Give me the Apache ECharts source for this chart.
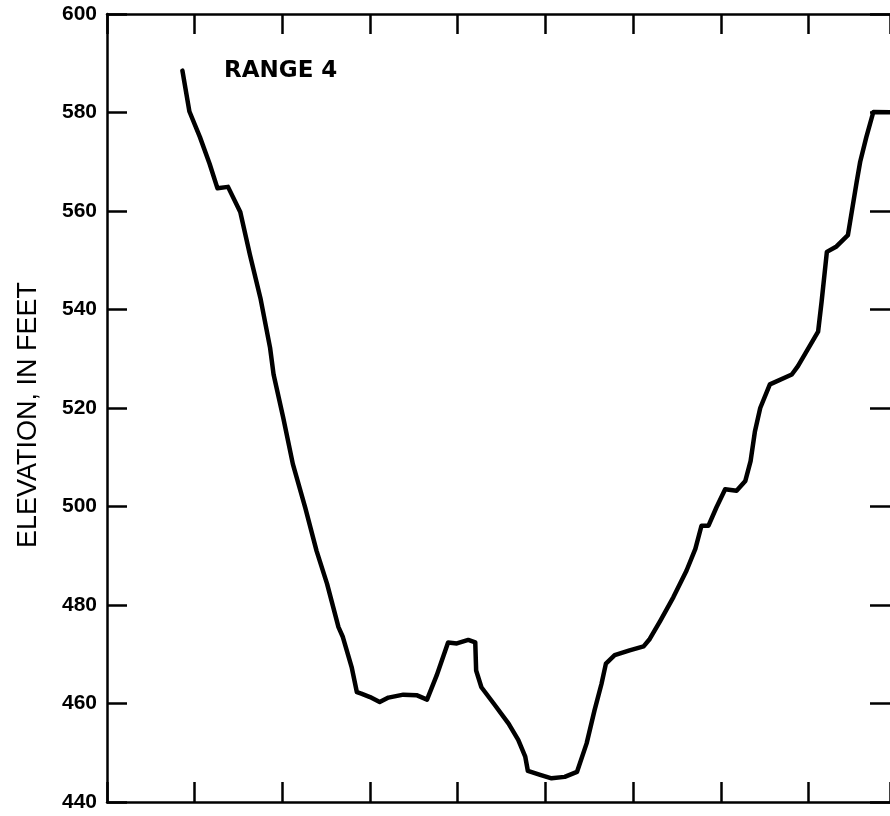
<!DOCTYPE html>
<html>
<head>
<meta charset="utf-8">
<script src="https://cdn.jsdelivr.net/npm/echarts@6/dist/echarts.min.js"></script>
<style>
  html, body { margin: 0; padding: 0; background: #fff; }
  #chart { width: 890px; height: 816px; }
</style>
</head>
<body>
<div id="chart"></div>
<script>
// Cross-section profile of Range 4: horizontal station vs. bed elevation.
const stations = [
  86, 94, 106, 117, 126, 138, 152, 163, 175, 186, 190, 201, 212, 226, 239, 251, 264,
  269, 279, 285, 290, 300, 311, 321, 338, 353, 365, 376, 389, 399, 412, 420, 421, 427,
  441, 458, 469, 477, 480, 494, 507, 522, 536, 547, 556, 564, 569, 579, 596, 612, 619,
  631, 646, 661, 671, 678, 686, 695, 705, 718, 728, 734, 739, 745, 756, 781, 788, 811,
  815, 821, 832, 845, 855, 859, 866, 874, 900
];
const elevations = [
  588.5, 580.2, 575.0, 569.6, 564.6, 564.9, 559.8, 551.1, 542.3, 532.2, 526.8, 518.0, 508.6, 499.8, 491.0, 484.3, 475.5,
  473.5, 467.4, 462.3, 462.0, 461.3, 460.3, 461.2, 461.8, 461.7, 460.8, 465.7, 472.4, 472.2, 472.9, 472.4, 466.7, 463.3,
  460.0, 455.9, 452.6, 449.2, 446.3, 445.5, 444.8, 445.1, 446.1, 451.9, 458.6, 464.0, 468.1, 469.8, 470.8, 471.6, 473.1,
  476.8, 481.6, 487.0, 491.4, 496.1, 496.1, 499.8, 503.5, 503.2, 505.2, 509.2, 515.3, 520.0, 524.8, 526.8, 528.5, 535.5,
  541.6, 551.7, 552.8, 555.1, 565.9, 570.0, 575.0, 580.1, 580.0
];
const elevationTicks = [440, 460, 480, 500, 520, 540, 560, 580, 600];
// station axis: ticks every 100; the frame stops just short of the 900 mark
const stationMin = 0;
const stationMax = 893;
const axisTitle = 'ELEVATION, IN FEET';
const sectionTitle = 'RANGE 4';

const profile = stations.map((s, i) => [s, elevations[i]]);

const frameLine = { show: true, onZero: false, lineStyle: { color: '#000', width: 2.5 } };
const innerTick = { show: true, inside: true, length: 20, lineStyle: { color: '#000', width: 2.5 } };

const xCommon = {
  type: 'value',
  gridIndex: 0,
  min: stationMin,
  max: stationMax,
  interval: 100,
  axisLine: frameLine,
  axisTick: innerTick,
  axisLabel: { show: false },
  splitLine: { show: false }
};
const yCommon = {
  type: 'value',
  gridIndex: 0,
  min: elevationTicks[0],
  max: elevationTicks[elevationTicks.length - 1],
  interval: 20,
  axisTick: innerTick,
  splitLine: { show: false }
};

const chart = echarts.init(document.getElementById('chart'), null, { renderer: 'canvas' });
chart.setOption({
  animation: false,
  backgroundColor: '#fff',
  grid: { left: 107, top: 14, right: 0, bottom: 14, containLabel: false },
  xAxis: [
    Object.assign({ position: 'bottom' }, xCommon),
    Object.assign({ position: 'top' }, xCommon)
  ],
  yAxis: [
    Object.assign({
      position: 'left',
      axisLine: frameLine,
      axisLabel: {
        show: true, margin: 10, color: '#000',
        fontFamily: 'Liberation Sans', fontWeight: 'bold', fontSize: 21
      }
    }, yCommon),
    // right-hand frame edge falls at the page border; only its ticks show
    Object.assign({
      position: 'right',
      axisLine: { show: false, onZero: false },
      axisLabel: { show: false }
    }, yCommon)
  ],
  graphic: [{
    type: 'text',
    x: 29,
    y: 415,
    rotation: Math.PI / 2,
    style: {
      text: axisTitle,
      fontFamily: 'Liberation Sans',
      fontSize: 27,
      fill: '#000',
      align: 'center',
      verticalAlign: 'middle'
    }
  }, {
    type: 'text',
    left: 224,
    top: 60,
    style: {
      text: sectionTitle,
      fontFamily: 'DejaVu Sans',
      fontWeight: 'bold',
      fontSize: 23,
      fill: '#000'
    }
  }],
  series: [{
    type: 'line',
    xAxisIndex: 0,
    yAxisIndex: 0,
    data: profile,
    showSymbol: false,
    smooth: false,
    clip: true,
    lineStyle: { color: '#000', width: 4.5, join: 'round', cap: 'round' }
  }]
});
</script>
</body>
</html>
